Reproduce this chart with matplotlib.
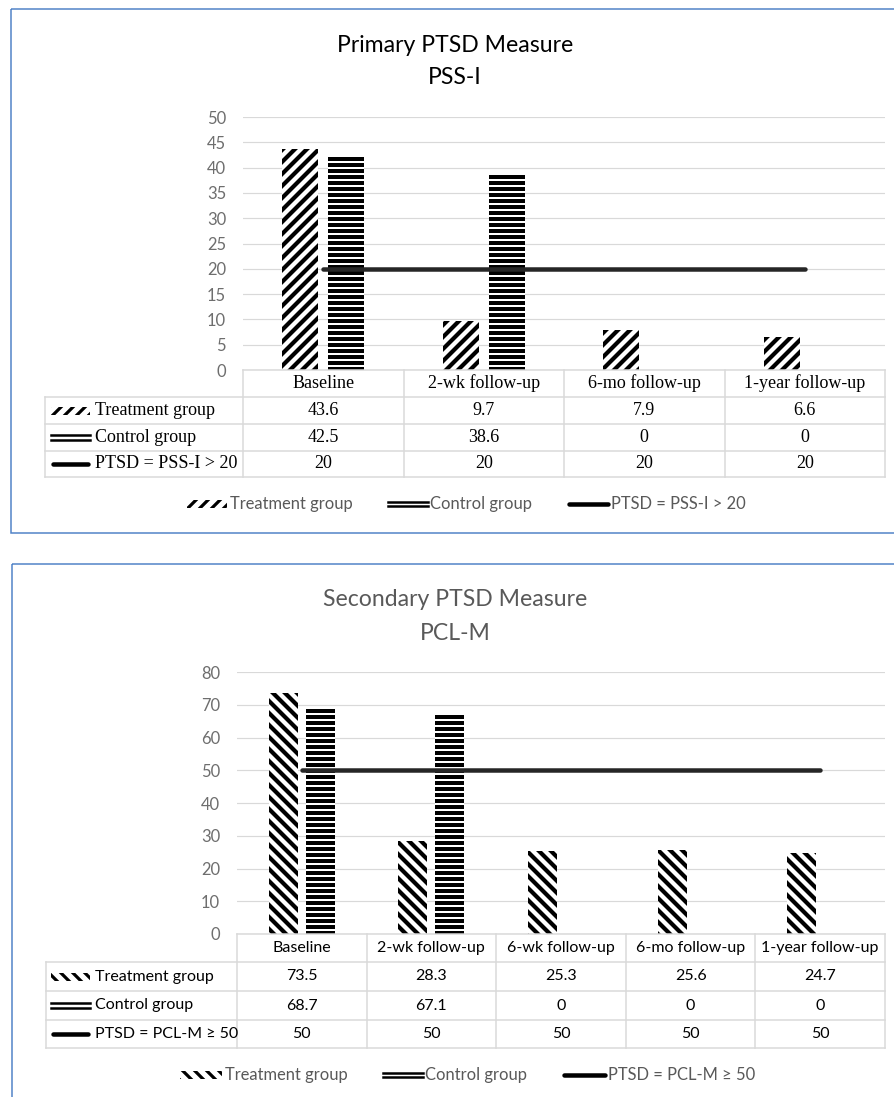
import matplotlib
matplotlib.use("Agg")
import matplotlib.pyplot as plt
from matplotlib.patches import Rectangle
from matplotlib.lines import Line2D
from matplotlib.transforms import Affine2D, blended_transform_factory
import numpy as np

# ---------------- data ----------------
pss_categories = ["Baseline", "2-wk follow-up", "6-mo follow-up", "1-year follow-up"]
pss_treatment = [43.6, 9.7, 7.9, 6.6]
pss_control = [42.5, 38.6, 0, 0]
pss_cutoff = [20, 20, 20, 20]
pss_series = ["Treatment group", "Control group", "PTSD = PSS-I > 20"]
pss_yticks = [0, 5, 10, 15, 20, 25, 30, 35, 40, 45, 50]
pss_title = ["Primary PTSD Measure", "PSS-I"]

pcl_categories = ["Baseline", "2-wk follow-up", "6-wk follow-up", "6-mo follow-up", "1-year follow-up"]
pcl_treatment = [73.5, 28.3, 25.3, 25.6, 24.7]
pcl_control = [68.7, 67.1, 0, 0, 0]
pcl_cutoff = [50, 50, 50, 50, 50]
pcl_series = ["Treatment group", "Control group", "PTSD = PCL-M \u2265 50"]
pcl_yticks = [0, 10, 20, 30, 40, 50, 60, 70, 80]
pcl_title = ["Secondary PTSD Measure", "PCL-M"]

# ---------------- style ----------------
W, H, DPI = 894, 1097, 72
SANS = ["Lato", "DejaVu Sans"]
SERIF = ["Liberation Serif", "DejaVu Serif"]
plt.rcParams["hatch.color"] = "black"
plt.rcParams["hatch.linewidth"] = 4.0

GRID = "#d9d9d9"
TICK = "#6e6e6e"
LEG = "#595959"
LINE = "#262626"
BORDER = "#4f81c7"

fig = plt.figure(figsize=(W / DPI, H / DPI), dpi=DPI)
pxT = Affine2D().scale(1, -1).translate(0, H)


def set_hlw(p, lw):
    if hasattr(p, "set_hatch_linewidth"):
        p.set_hatch_linewidth(lw)


def panel(cats, treat, ctrl, cut, series, yticks, title, L):
    n = len(cats)
    ymax = yticks[-1]
    # border
    fig.add_artist(Rectangle((L["bx"], L["by0"]), W, L["by1"] - L["by0"], transform=pxT,
                             fill=False, edgecolor=BORDER, lw=1.5))
    # titles
    fig.text(L["tx"], L["t1"], title[0], transform=pxT, ha="center", va="center",
             fontsize=L["tfs"], family=SANS, color=L["tcol"])
    fig.text(L["tx"], L["t2"], title[1], transform=pxT, ha="center", va="center",
             fontsize=L["tfs"], family=SANS, color=L["tcol"])

    pl, pr, ytop, y0 = L["pl"], L["pr"], L["ytop"], L["y0"]
    ax = fig.add_axes([pl / W, 1 - y0 / H, (pr - pl) / W, (y0 - ytop) / H])
    ax.set_xlim(-0.5, n - 0.5)
    ax.set_ylim(0, ymax)
    for s in ax.spines.values():
        s.set_visible(False)
    ax.set_xticks([])
    ax.set_yticks(yticks)
    ax.tick_params(axis="y", length=0, pad=L["pad"], labelcolor=TICK, labelsize=L["yfs"])
    for t in ax.get_yticklabels():
        t.set_family(SANS)
    ax.yaxis.grid(True, color=GRID, lw=1.2)
    ax.set_axisbelow(True)

    x = np.arange(n)
    off, bw = 0.143, 0.224
    b1 = ax.bar(x - off, treat, bw, facecolor="white", edgecolor="black", linewidth=0,
                hatch=L["hatch"] * 2, zorder=2)
    b2 = ax.bar(x + off, ctrl, bw, facecolor="white", edgecolor="black", linewidth=0,
                hatch="--", zorder=2)
    for p in b1:
        set_hlw(p, 4.2)
    for p in b2:
        set_hlw(p, 4.0)
    ax.plot(x, cut, color=LINE, lw=4.5, solid_capstyle="round", zorder=3)

    # ---------- data table ----------
    bT = blended_transform_factory(ax.transData, pxT)
    rows = L["rows"]
    tl = L["tl"]
    fig.add_artist(Line2D([-0.5, n - 0.5], [rows[0], rows[0]], transform=bT, color=GRID, lw=1.5))
    for ry in rows[1:]:
        fig.add_artist(Line2D([tl, pr], [ry, ry], transform=pxT, color=GRID, lw=1.5))
    fig.add_artist(Line2D([tl, tl], [rows[1], rows[-1]], transform=pxT, color=GRID, lw=1.5))
    for b in np.arange(n + 1) - 0.5:
        fig.add_artist(Line2D([b, b], [rows[0], rows[-1]], transform=bT, color=GRID, lw=1.5))

    fam, fs = L["tabfam"], L["tabfs"]
    mids = [(rows[i] + rows[i + 1]) / 2 for i in range(4)]
    for i, c in enumerate(cats):
        fig.text(i, mids[0], c, transform=bT, ha="center", va="center", family=fam,
                 fontsize=fs, color="black")
    for r, vals in enumerate([treat, ctrl, cut]):
        for i, v in enumerate(vals):
            fig.text(i, mids[r + 1], f"{v:g}", transform=bT, ha="center", va="center",
                     family=fam, fontsize=fs, color="black")
        fig.text(L["lx"], mids[r + 1], series[r], transform=pxT, ha="left", va="center",
                 family=fam, fontsize=fs, color="black")

    # row-label keys
    ix0, ix1 = 51, 90
    p = Rectangle((ix0, mids[1] - 4), ix1 - ix0, 8, transform=pxT, facecolor="white",
                  edgecolor="black", lw=0, hatch=L["hatch"] * 2)
    set_hlw(p, 3.2)
    fig.add_artist(p)
    for dy in (-2.4, 2.4):
        fig.add_artist(Line2D([ix0, ix1], [mids[2] + dy, mids[2] + dy], transform=pxT,
                              color="black", lw=2.5))
    fig.add_artist(Line2D([ix0 + 2, ix1 - 2], [mids[3], mids[3]], transform=pxT, color="black",
                          lw=4.5, solid_capstyle="round"))

    # ---------- legend ----------
    ly = L["ly"]
    lg = L["leg"]
    p = Rectangle((lg[0], ly - 4), lg[1] - lg[0], 8, transform=pxT, facecolor="white",
                  edgecolor="black", lw=0, hatch=L["hatch"] * 2)
    set_hlw(p, 3.2)
    fig.add_artist(p)
    fig.text(lg[1] + 3, ly, series[0], transform=pxT, ha="left", va="center", family=SANS,
             fontsize=L["lfs"], color=LEG)
    for dy in (-2.4, 2.4):
        fig.add_artist(Line2D([lg[2], lg[3]], [ly + dy, ly + dy], transform=pxT,
                              color="black", lw=2.5))
    fig.text(lg[3] + 2, ly, series[1], transform=pxT, ha="left", va="center", family=SANS,
             fontsize=L["lfs"], color=LEG)
    fig.add_artist(Line2D([lg[4] + 2, lg[5] - 2], [ly, ly], transform=pxT, color="black",
                          lw=4.5, solid_capstyle="round"))
    fig.text(lg[5] + 1, ly, series[2], transform=pxT, ha="left", va="center", family=SANS,
             fontsize=L["lfs"], color=LEG)


top = dict(bx=11, by0=9, by1=533, tx=455, t1=45, t2=78, tfs=23, tcol="black",
           pl=243, pr=885, ytop=117, y0=370, pad=17, yfs=16.5, hatch="/",
           rows=[370, 397, 424, 451, 477], tl=45, lx=95, tabfam=SERIF, tabfs=18,
           ly=504, leg=[187, 227, 388, 428, 567, 610], lfs=16.5)
bot = dict(bx=12, by0=564, by1=1200, tx=455, t1=600, t2=634, tfs=23, tcol="#595959",
           pl=237, pr=885, ytop=672, y0=934, pad=17, yfs=16.5, hatch="\\",
           rows=[934, 962, 991, 1020, 1048], tl=46, lx=95, tabfam=SANS, tabfs=16,
           ly=1075, leg=[180, 222, 383, 423, 562, 607], lfs=16.5)

panel(pss_categories, pss_treatment, pss_control, pss_cutoff, pss_series, pss_yticks, pss_title, top)
panel(pcl_categories, pcl_treatment, pcl_control, pcl_cutoff, pcl_series, pcl_yticks, pcl_title, bot)

fig.savefig("out.png", dpi=DPI, facecolor="white")
